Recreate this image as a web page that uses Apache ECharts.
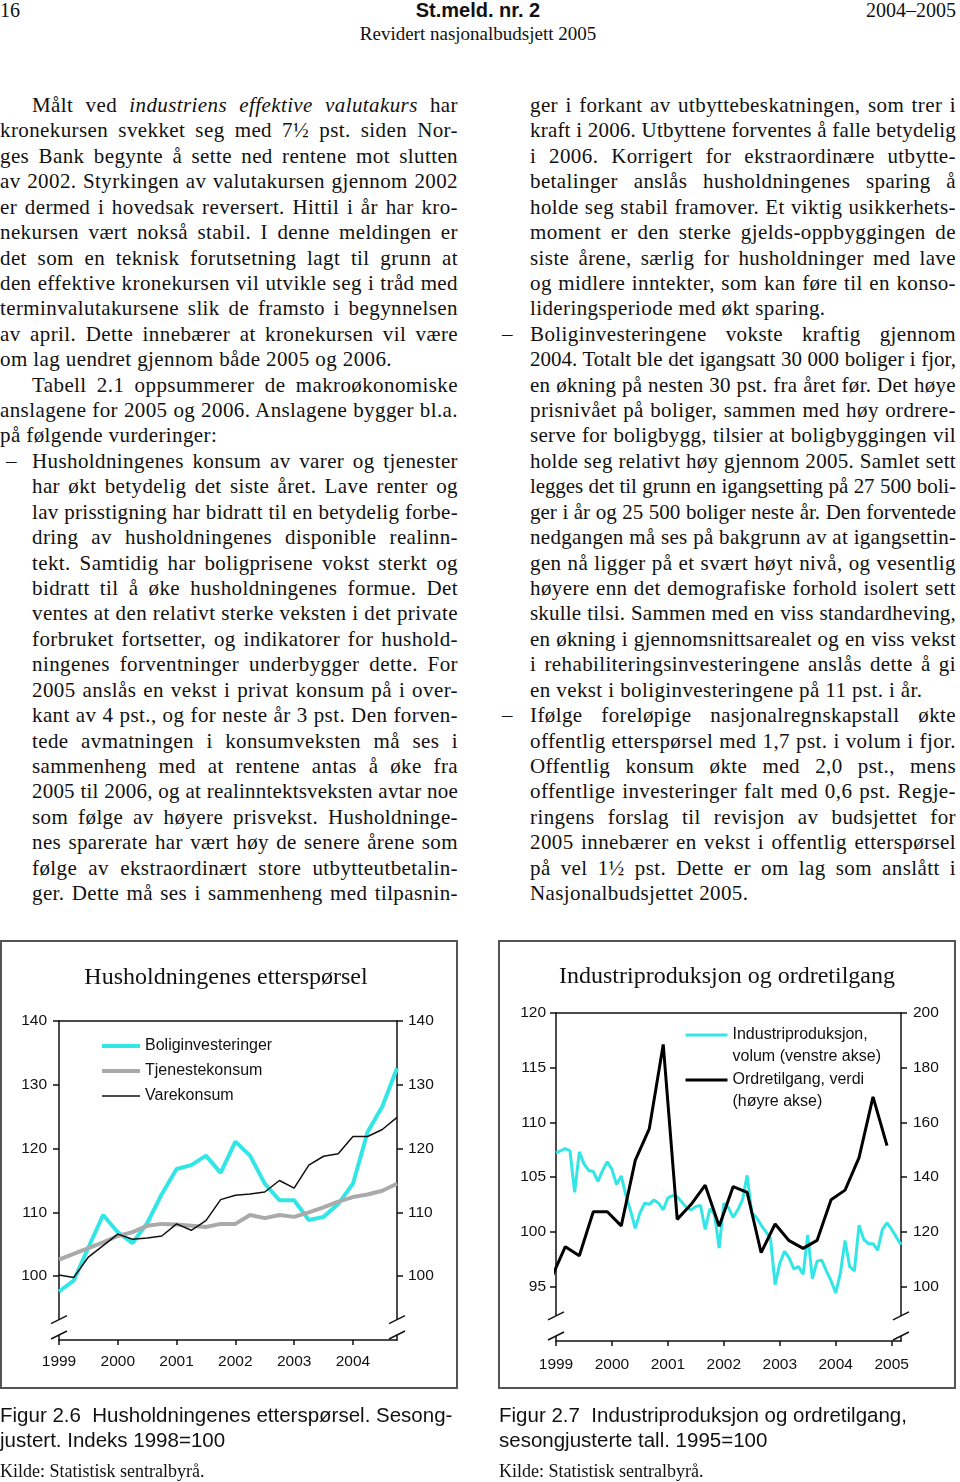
<!DOCTYPE html>
<html><head><meta charset="utf-8">
<script src="https://cdn.jsdelivr.net/npm/echarts@6/dist/echarts.min.js"></script>
<style>
html,body{margin:0;padding:0;background:#fff;}
#page{position:relative;width:960px;height:1482px;overflow:hidden;font-family:'Liberation Serif',serif;color:#111;}
.ln{position:absolute;height:26px;line-height:26px;font-size:21px;letter-spacing:0.4px;white-space:nowrap;text-align:justify;text-align-last:justify;}
.ln.last{text-align-last:left;text-align:left;}
.abs{position:absolute;white-space:pre;}
.frame{position:absolute;border:2px solid #555;box-sizing:border-box;pointer-events:none;}
#chart{position:absolute;left:0;top:940px;width:960px;height:455px;}
</style></head>
<body><div id="page">
<div class="abs" style="left:0;top:-3px;font-size:20px;line-height:26px;">16</div>
<div class="abs" style="left:0;width:956px;top:-3px;font-size:20px;line-height:26px;text-align:center;font-family:'Liberation Sans';font-weight:bold;">St.meld. nr. 2</div>
<div class="abs" style="right:4px;top:-3px;font-size:20px;line-height:26px;">2004–2005</div>
<div class="abs" style="left:0;width:956px;top:22px;font-size:19px;line-height:24px;text-align:center;">Revidert nasjonalbudsjett 2005</div>
<div id="body"></div>
<div id="chart"></div>
<div class="frame" style="left:0;top:940px;width:458px;height:449px;"></div>
<div class="frame" style="left:498px;top:940px;width:458px;height:449px;"></div>
<div class="abs" style="left:0;top:1402px;font-size:20.5px;line-height:26px;font-family:'Liberation Sans';">Figur 2.6  Husholdningenes etterspørsel. Sesong-</div>
<div class="abs" style="left:0;top:1427px;font-size:20.5px;line-height:26px;font-family:'Liberation Sans';">justert. Indeks 1998=100</div>
<div class="abs" style="left:0;top:1460px;font-size:18px;line-height:22px;">Kilde: Statistisk sentralbyrå.</div>
<div class="abs" style="left:499px;top:1402px;font-size:20.5px;line-height:26px;font-family:'Liberation Sans';">Figur 2.7  Industriproduksjon og ordretilgang,</div>
<div class="abs" style="left:499px;top:1427px;font-size:20.5px;line-height:26px;font-family:'Liberation Sans';">sesongjusterte tall. 1995=100</div>
<div class="abs" style="left:499px;top:1460px;font-size:18px;line-height:22px;">Kilde: Statistisk sentralbyrå.</div>
</div>
<script>
// ---------- Figure 2.6: quarterly, 1999Q1 .. 2004Q4, index 1998=100 ----------
const hhFirstYear = 1999;
const hhYearTicks = ['1999','2000','2001','2002','2003','2004'];
const boligInvesteringer = [97.6, 99.3, 104.5, 109.6, 106.9, 105.2, 108.3, 112.9, 116.8, 117.4, 118.9, 116.2, 121.1, 118.9, 114.5, 111.9, 111.9, 108.8, 109.3, 111.3, 114.5, 122.6, 126.6, 132.6];
const tjenesteKonsum = [102.6, 103.5, 104.4, 105.3, 106.3, 106.9, 107.9, 108.2, 108.1, 107.9, 107.7, 108.2, 108.2, 109.6, 109.1, 109.6, 109.3, 110.0, 110.8, 111.7, 112.4, 112.8, 113.4, 114.5];
const vareKonsum = [100.2, 99.8, 103.0, 104.8, 106.6, 105.8, 106.0, 106.3, 108.2, 107.2, 108.7, 112.0, 112.7, 112.9, 113.2, 115.0, 113.8, 117.4, 118.8, 119.2, 121.9, 121.9, 123.0, 124.9];

// ---------- Figure 2.7: monthly industrial production Jan 1999 .. Mar 2005 (left axis) ----------
const indFirstYear = 1999;
const indYearTicks = ['1999','2000','2001','2002','2003','2004','2005'];
const industriProduksjon = [107.2, 107.4, 107.6, 107.4, 103.6, 107.3, 106.2, 105.6, 105.5, 104.6, 105.6, 106.4,
  105.7, 104.3, 105.1, 103.3, 101.9, 100.3, 101.7, 102.6, 102.5, 102.9, 102.6, 102.0,
  103.1, 103.3, 103.2, 102.7, 102.2, 102.0, 102.3, 102.4, 100.2, 102.1, 101.6, 98.5,
  102.6, 102.2, 101.3, 102.0, 102.9, 105.15, 101.7, 101.3, 100.6, 100.0, 99.4, 95.15,
  97.1, 98.2, 97.6, 96.6, 96.8, 96.1, 99.7, 95.7, 97.3, 97.4, 96.4, 95.5,
  94.4, 96.2, 99.2, 96.8, 96.4, 100.6, 99.3, 98.9, 98.9, 98.3, 100.2, 100.8,
  100.2, 99.5, 98.8];
// quarterly order intake, Q4 1998 .. Q4 2004 (right axis), plotted at last month of quarter
const ordreTilgang = [103.0, 114.5, 111.2, 127.3, 127.3, 122.1, 146.1, 157.6, 188.5, 124.5, 130.0, 137.0, 122.0, 136.5, 134.4, 112.3, 122.8, 116.7, 113.9, 116.8, 131.7, 135.2, 147.1, 169.3, 151.5];

const hhNames = ['Boliginvesteringer', 'Tjenestekonsum', 'Varekonsum'];
const indNames = ['Industriproduksjon,\nvolum (venstre akse)', 'Ordretilgang, verdi\n(høyre akse)'];

// ---------- body text ----------
const leftCol = [
 [32,'Målt ved <i>industriens effektive valutakurs</i> har',1],
 [0,'kronekursen svekket seg med 7½ pst. siden Nor-',1],
 [0,'ges Bank begynte å sette ned rentene mot slutten',1],
 [0,'av 2002. Styrkingen av valutakursen gjennom 2002',1],
 [0,'er dermed i hovedsak reversert. Hittil i år har kro-',1],
 [0,'nekursen vært nokså stabil. I denne meldingen er',1],
 [0,'det som en teknisk forutsetning lagt til grunn at',1],
 [0,'den effektive kronekursen vil utvikle seg i tråd med',1],
 [0,'terminvalutakursene slik de framsto i begynnelsen',1],
 [0,'av april. Dette innebærer at kronekursen vil være',1],
 [0,'om lag uendret gjennom både 2005 og 2006.',0],
 [32,'Tabell 2.1 oppsummerer de makroøkonomiske',1],
 [0,'anslagene for 2005 og 2006. Anslagene bygger bl.a.',1],
 [0,'på følgende vurderinger:',0],
 [32,'Husholdningenes konsum av varer og tjenester',1,1],
 [32,'har økt betydelig det siste året. Lave renter og',1],
 [32,'lav prisstigning har bidratt til en betydelig forbe-',1],
 [32,'dring av husholdningenes disponible realinn-',1],
 [32,'tekt. Samtidig har boligprisene vokst sterkt og',1],
 [32,'bidratt til å øke husholdningenes formue. Det',1],
 [32,'ventes at den relativt sterke veksten i det private',1],
 [32,'forbruket fortsetter, og indikatorer for hushold-',1],
 [32,'ningenes forventninger underbygger dette. For',1],
 [32,'2005 anslås en vekst i privat konsum på i over-',1],
 [32,'kant av 4 pst., og for neste år 3 pst. Den forven-',1],
 [32,'tede avmatningen i konsumveksten må ses i',1],
 [32,'sammenheng med at rentene antas å øke fra',1],
 [32,'2005 til 2006, og at realinntektsveksten avtar noe',1],
 [32,'som følge av høyere prisvekst. Husholdninge-',1],
 [32,'nes sparerate har vært høy de senere årene som',1],
 [32,'følge av ekstraordinært store utbytteutbetalin-',1],
 [32,'ger. Dette må ses i sammenheng med tilpasnin-',1]
];
const rightCol = [
 ['ger i forkant av utbyttebeskatningen, som trer i',1],
 ['kraft i 2006. Utbyttene forventes å falle betydelig',1],
 ['i 2006. Korrigert for ekstraordinære utbytte-',1],
 ['betalinger anslås husholdningenes sparing å',1],
 ['holde seg stabil framover. Et viktig usikkerhets-',1],
 ['moment er den sterke gjelds-oppbyggingen de',1],
 ['siste årene, særlig for husholdninger med lave',1],
 ['og midlere inntekter, som kan føre til en konso-',1],
 ['lideringsperiode med økt sparing.',0],
 ['Boliginvesteringene vokste kraftig gjennom',1,1],
 ['2004. Totalt ble det igangsatt 30 000 boliger i fjor,',1],
 ['en økning på nesten 30 pst. fra året før. Det høye',1],
 ['prisnivået på boliger, sammen med høy ordrere-',1],
 ['serve for boligbygg, tilsier at boligbyggingen vil',1],
 ['holde seg relativt høy gjennom 2005. Samlet sett',1],
 ['legges det til grunn en igangsetting på 27 500 boli-',1],
 ['ger i år og 25 500 boliger neste år. Den forventede',1],
 ['nedgangen må ses på bakgrunn av at igangsettin-',1],
 ['gen nå ligger på et svært høyt nivå, og vesentlig',1],
 ['høyere enn det demografiske forhold isolert sett',1],
 ['skulle tilsi. Sammen med en viss standardheving,',1],
 ['en økning i gjennomsnittsarealet og en viss vekst',1],
 ['i rehabiliteringsinvesteringene anslås dette å gi',1],
 ['en vekst i boliginvesteringene på 11 pst. i år.',0],
 ['Ifølge foreløpige nasjonalregnskapstall økte',1,1],
 ['offentlig etterspørsel med 1,7 pst. i volum i fjor.',1],
 ['Offentlig konsum økte med 2,0 pst., mens',1],
 ['offentlige investeringer falt med 0,6 pst. Regje-',1],
 ['ringens forslag til revisjon av budsjettet for',1],
 ['2005 innebærer en vekst i offentlig etterspørsel',1],
 ['på vel 1½ pst. Dette er om lag som anslått i',1],
 ['Nasjonalbudsjettet 2005.',0]
];
(function(){
  const body = document.getElementById('body');
  const top0 = 92, step = 25.42;
  let html = '';
  leftCol.forEach((l,i)=>{
    const y = top0 + i*step;
    html += `<div class="ln${l[2]?'':' last'}" style="left:${l[0]}px;width:${458-l[0]}px;top:${y}px">${l[1]}</div>`;
    if (l[3]) html += `<div class="ln last" style="left:6px;top:${y}px">–</div>`;
  });
  rightCol.forEach((l,i)=>{
    const y = top0 + i*step;
    html += `<div class="ln${l[1]?'':' last'}" style="left:530px;width:426px;top:${y}px">${l[0]}</div>`;
    if (l[2]) html += `<div class="ln last" style="left:502px;top:${y}px">–</div>`;
  });
  body.innerHTML = html;
  // shrink letter-spacing on lines that would overflow their column
  body.querySelectorAll('.ln').forEach(el => {
    if (!el.style.width) return;
    let ls = 0.4, fs = 21;
    while (el.scrollWidth > el.clientWidth + 0.5 && ls > -0.6) {
      ls -= 0.1; el.style.letterSpacing = ls.toFixed(2) + 'px';
    }
    while (el.scrollWidth > el.clientWidth + 0.5 && fs > 18) {
      fs -= 0.25; el.style.fontSize = fs + 'px';
    }
  });
})();

// ---------- chart ----------
const chart = echarts.init(document.getElementById('chart'), null, {renderer:'canvas'});
const FONT = 'Liberation Sans';
const ink = '#111';
const axisLineStyle = {color: ink, width: 1.5};
function yAx(grid, pos, min, max, interval, tickVals, margin) {
  return {type:'value', gridIndex:grid, position:pos, min, max, interval,
    axisLine:{show:true, onZero:false, lineStyle:axisLineStyle},
    axisTick:{show:true, length:6, inside:false, customValues: tickVals, lineStyle:axisLineStyle},
    axisLabel:{customValues: tickVals, color:ink, fontFamily:FONT, fontSize:15.5, margin},
    splitLine:{show:false}};
}
function xAx(grid, max, step, first, margin) {
  return {type:'value', gridIndex:grid, position:'bottom', min:0, max, interval:step,
    axisLine:{show:true, onZero:false, lineStyle:axisLineStyle},
    axisTick:{show:true, length:5, lineStyle:axisLineStyle},
    axisLabel:{color:ink, fontFamily:FONT, fontSize:15.5, margin, formatter: v => String(first + v/step), showMaxLabel:false},
    splitLine:{show:false}};
}
function topAx(grid, max) {
  return {type:'value', gridIndex:grid, position:'top', min:0, max,
    axisLine:{show:true, onZero:false, lineStyle:axisLineStyle}, axisTick:{show:false}, axisLabel:{show:false}, splitLine:{show:false}};
}
const cyan = '#33e6e6', grey = '#aaaaaa';
const option = {
  animation:false,
  backgroundColor:'transparent',
  grid:[{left:59, top:81, width:338, height:319}, {left:556, top:73, width:345, height:328}],
  xAxis:[xAx(0, 23, 4, hhFirstYear, 14), topAx(0, 23), xAx(1, 74, 12, indFirstYear, 16), topAx(1, 74)],
  yAxis:[
    yAx(0,'left',90,140,10,[100,110,120,130,140],12),
    yAx(0,'right',90,140,10,[100,110,120,130,140],11),
    yAx(1,'left',90,120,5,[95,100,105,110,115,120],10),
    yAx(1,'right',80,200,20,[100,120,140,160,180,200],12)
  ],
  legend:[
    {left:100, top:98, padding:0, orient:'vertical', itemWidth:38, itemHeight:14, itemGap:9, selectedMode:false,
     textStyle:{fontFamily:FONT, fontSize:16, lineHeight:16, color:ink},
     data:[{name:hhNames[0], lineStyle:{width:4, color:cyan}, itemStyle:{opacity:0}},
           {name:hhNames[1], lineStyle:{width:4, color:grey}, itemStyle:{opacity:0}},
           {name:hhNames[2], lineStyle:{width:1.5, color:ink}, itemStyle:{opacity:0}}]},
    {left:684, top:62, padding:0, orient:'vertical', itemWidth:42, itemHeight:14, itemGap:-21, selectedMode:false,
     formatter: name => '\n' + name,
     textStyle:{fontFamily:FONT, fontSize:16, lineHeight:22, color:ink},
     data:[{name:indNames[0], lineStyle:{width:3, color:cyan}, itemStyle:{opacity:0}},
           {name:indNames[1], lineStyle:{width:3, color:'#000'}, itemStyle:{opacity:0}}]}
  ],
  series:[
    {name:hhNames[0], type:'line', xAxisIndex:0, yAxisIndex:0, symbol:'none', color:cyan, lineStyle:{width:4, color:cyan}, data: boligInvesteringer.map((v,i)=>[i,v])},
    {name:hhNames[1], type:'line', xAxisIndex:0, yAxisIndex:0, symbol:'none', color:grey, lineStyle:{width:4, color:grey}, data: tjenesteKonsum.map((v,i)=>[i,v])},
    {name:hhNames[2], type:'line', xAxisIndex:0, yAxisIndex:0, symbol:'none', color:ink, lineStyle:{width:1.5, color:ink}, data: vareKonsum.map((v,i)=>[i,v])},
    {name:indNames[0], type:'line', xAxisIndex:2, yAxisIndex:2, symbol:'none', color:cyan, lineStyle:{width:3, color:cyan}, data: industriProduksjon.map((v,i)=>[i,v])},
    {name:indNames[1], type:'line', xAxisIndex:2, yAxisIndex:3, symbol:'none', clip:true, color:'#000', lineStyle:{width:3, color:'#000'}, data: ordreTilgang.map((v,i)=>[i*3-1,v])}
  ]
};
chart.setOption(option);

// titles and axis-break marks
const g = [
  {type:'text', x:226, y:38, z:100, style:{text:'Husholdningenes etterspørsel', font:'24px "Liberation Serif"', fill:ink, align:'center', verticalAlign:'middle'}},
  {type:'text', x:727, y:37, z:100, style:{text:'Industriproduksjon og ordretilgang', font:'24px "Liberation Serif"', fill:ink, align:'center', verticalAlign:'middle'}}
];
function addBreak(xIdx, yIdx, xv, yvUp) {
  const pUp = chart.convertToPixel({xAxisIndex:xIdx, yAxisIndex:yIdx}, [xv, yvUp]);
  const yBottom = chart.convertToPixel({yAxisIndex:yIdx}, chart.getModel().getComponent('yAxis', yIdx).get('min'));
  const yLow = yBottom - 5;
  g.push({type:'rect', z:100, shape:{x:pUp[0]-3, y:pUp[1], width:6, height:yLow-pUp[1]}, style:{fill:'#fff'}});
  [pUp[1], yLow].forEach(y => g.push({type:'line', z:101, shape:{x1:pUp[0]-8, y1:y+4, x2:pUp[0]+8, y2:y-4}, style:{stroke:ink, lineWidth:1.5}}));
}
addBreak(0, 0, 0, 93.2);
addBreak(0, 1, 23, 93.2);
addBreak(2, 2, 0, 92.3);
addBreak(2, 2, 74, 92.3);
chart.setOption({graphic: g});
</script>
</body></html>
